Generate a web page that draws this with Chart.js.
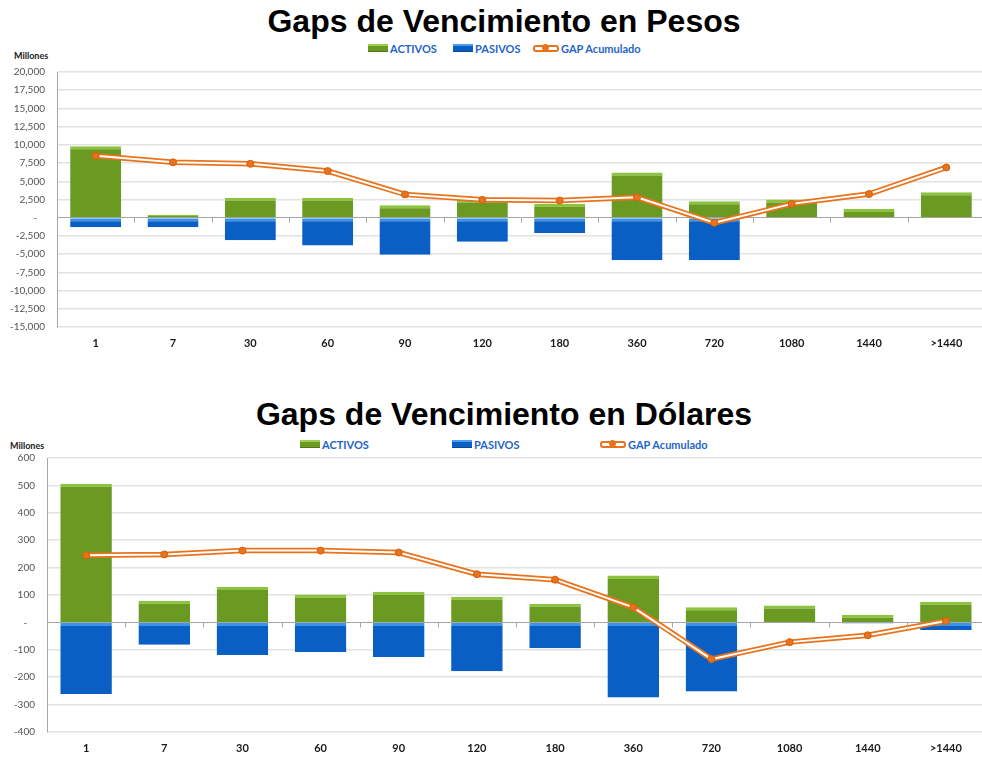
<!DOCTYPE html>
<html>
<head>
<meta charset="utf-8">
<script src="https://cdn.jsdelivr.net/npm/chart.js@4.4.1/dist/chart.umd.min.js"></script>
<style>
  body { margin: 0; width: 982px; height: 757px; overflow: hidden; background: #fff; position: relative; font-family: "Liberation Sans", Arial, sans-serif; }
  .title { position: absolute; left: 0; width: 1008px; text-align: center; font-weight: bold; font-size: 32px; color: #000; }
  .units { position: absolute; font-family: Lato, sans-serif; font-weight: bold; font-size: 9px; color: #222; }
  .leg { position: absolute; font-family: Lato, sans-serif; font-weight: bold; font-size: 11px; color: #1f64c8; line-height: 12px; white-space: nowrap; }
  .sw { display: inline-block; width: 20px; height: 7px; vertical-align: 1px; margin-right: 2px; }
  .sw.g { background: linear-gradient(#9ad04a 0 30%, #6a9a22 30%); border-bottom: 1px solid #4f7418; }
  .sw.b { background: linear-gradient(#4aa0f0 0 30%, #0a5fc5 30%); border-bottom: 1px solid #084a98; }
  .sw.l { position: relative; width: 22px; height: 3px; border: 2px solid #e8731c; border-radius: 3px; background: #fff; vertical-align: 1px; }
  .sw.l:after { content: ""; position: absolute; left: 7px; top: -3px; width: 7px; height: 7px; border-radius: 50%; background: #e8731c; }
  .box { position: absolute; left: 0; width: 990px; }
</style>
</head>
<body>
<div class="title" style="top:3px">Gaps de Vencimiento en Pesos</div>
<div class="leg" style="left:368px;top:43px"><span class="sw g"></span>ACTIVOS</div>
<div class="leg" style="left:453px;top:43px"><span class="sw b"></span>PASIVOS</div>
<div class="leg" style="left:533px;top:43px"><span class="sw l"></span>GAP Acumulado</div>
<div class="units" style="left:14px;top:50px">Millones</div>
<div class="box" style="top:60px;height:300px"><canvas id="chartPesos"></canvas></div>

<div class="title" style="top:396px">Gaps de Vencimiento en Dólares</div>
<div class="leg" style="left:300px;top:439px"><span class="sw g"></span>ACTIVOS</div>
<div class="leg" style="left:452px;top:439px"><span class="sw b"></span>PASIVOS</div>
<div class="leg" style="left:600px;top:439px"><span class="sw l"></span>GAP Acumulado</div>
<div class="units" style="left:10px;top:440px">Millones</div>
<div class="box" style="top:446px;height:319px"><canvas id="chartDolares"></canvas></div>

<script>
// plazos (dias)
const categories = ['1', '7', '30', '60', '90', '120', '180', '360', '720', '1080', '1440', '>1440'];

// pesos, millones
const pesosActivos = [9800, 400, 2750, 2750, 1700, 2500, 1900, 6200, 2250, 2500, 1200, 3500];
const pesosPasivos = [-1300, -1300, -3100, -3800, -5100, -3300, -2100, -5850, -5850, 0, 0, 0];
const pesosGap = [8500, 7600, 7400, 6400, 3200, 2450, 2350, 2800, -700, 1900, 3250, 6900];

// dolares, millones
const dolaresActivos = [506, 79, 129, 102, 112, 94, 68, 171, 55, 62, 28, 75];
const dolaresPasivos = [-261, -82, -119, -108, -126, -178, -94, -274, -252, -2, -4, -28];
const dolaresGap = [245, 248, 262, 262, 255, 176, 156, 55, -134, -72, -47, 5];

const orange = '#e8731c';

// little tick marks on the zero line between categories (like excel)
const zeroTicks = {
    id: 'zeroTicks',
    afterDatasetsDraw(chart) {
        const x = chart.scales.x, y = chart.scales.y;
        const ctx = chart.ctx;
        const y0 = y.getPixelForValue(0);
        const half = (x.getPixelForValue(1) - x.getPixelForValue(0)) / 2;
        ctx.save();
        ctx.strokeStyle = '#a6a6a6';
        ctx.lineWidth = 1;
        for (let i = 1; i < categories.length; i++) {
            const px = Math.round(x.getPixelForValue(i) - half) + 0.5;
            ctx.beginPath();
            ctx.moveTo(px, y0);
            ctx.lineTo(px, y0 + 5);
            ctx.stroke();
        }
        ctx.restore();
    }
};

function makeChart(id, activos, pasivos, gap, min, max, step, axisWidth) {
    const ctx = document.getElementById(id).getContext('2d');
    return new Chart(ctx, {
        type: 'bar',
        data: {
            labels: categories,
            datasets: [{
                label: 'ACTIVOS',
                data: activos,
                backgroundColor: '#6a9a22',
                borderColor: '#8cc43e',
                borderWidth: {top: 3, right: 0, bottom: 0, left: 0},
                borderSkipped: false,
                grouped: false,
                barPercentage: 0.66,
                categoryPercentage: 1,
                order: 3
            }, {
                label: 'PASIVOS',
                data: pasivos,
                backgroundColor: '#0a5fc5',
                borderColor: '#3b93ea',
                borderWidth: {top: 3, right: 0, bottom: 0, left: 0},
                borderSkipped: false,
                grouped: false,
                barPercentage: 0.66,
                categoryPercentage: 1,
                order: 3
            }, {
                type: 'line',
                label: 'GAP Acumulado',
                data: gap,
                borderColor: orange,
                borderWidth: 5.5,
                pointRadius: 0,
                tension: 0,
                order: 2
            }, {
                // white middle of the double line
                type: 'line',
                label: 'gap-inner',
                data: gap,
                borderColor: '#ffffff',
                borderWidth: 2,
                pointRadius: 3.5,
                pointBackgroundColor: orange,
                pointBorderColor: '#d2600e',
                pointBorderWidth: 1,
                tension: 0,
                order: 1
            }]
        },
        options: {
            responsive: true,
            maintainAspectRatio: false,
            animation: false,
            layout: {padding: {top: 12, left: 0, right: 0, bottom: 0}},
            plugins: {
                legend: {display: false},
                title: {display: false},
                tooltip: {enabled: false}
            },
            scales: {
                x: {
                    grid: {display: false, drawTicks: false},
                    border: {display: false},
                    ticks: {
                        padding: 10,
                        color: '#1a1a1a',
                        font: {family: 'Lato', size: 11, weight: 'bold'}
                    },
                    afterFit: function(scale) { scale.height = 33; }
                },
                y: {
                    min: min,
                    max: max,
                    ticks: {
                        stepSize: step,
                        padding: 12,
                        color: '#555555',
                        font: {family: 'Lato', size: 10},
                        callback: function(v) {
                            if (v === 0) return '-   ';
                            return v.toLocaleString('en-US');
                        }
                    },
                    grid: {
                        drawTicks: false,
                        color: function(c) { return c.tick && c.tick.value === 0 ? '#a6a6a6' : '#e2e2e2'; },
                        lineWidth: function(c) { return c.tick && c.tick.value === 0 ? 1 : 1.5; }
                    },
                    border: {color: '#a6a6a6'},
                    afterFit: function(scale) {
                        scale.width = axisWidth;
                        scale.paddingTop = 0;
                        scale.paddingBottom = 0;
                    }
                }
            }
        },
        plugins: [zeroTicks]
    });
}

makeChart('chartPesos', pesosActivos, pesosPasivos, pesosGap, -15000, 20000, 2500, 57);
makeChart('chartDolares', dolaresActivos, dolaresPasivos, dolaresGap, -400, 600, 100, 47);
</script>
</body>
</html>
